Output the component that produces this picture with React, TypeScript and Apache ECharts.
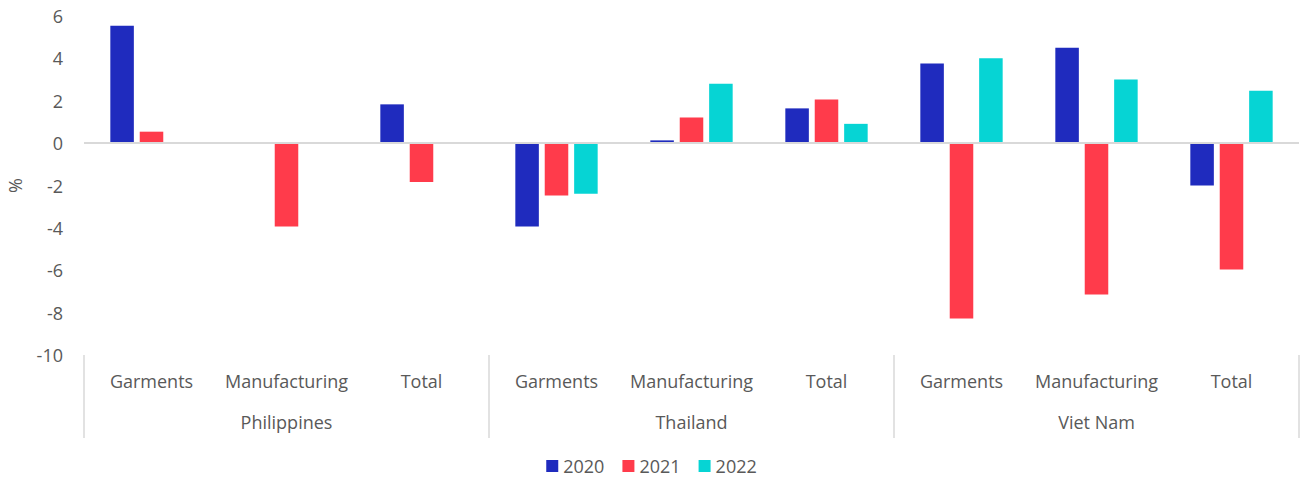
import React, { useEffect, useRef } from "react";
import * as echarts from "echarts";

const categories = [
  "Garments", "Manufacturing", "Total",
  "Garments", "Manufacturing", "Total",
  "Garments", "Manufacturing", "Total",
];
const countries = ["Philippines", "Thailand", "Viet Nam"];
const seriesNames = ["2020", "2021", "2022"];
const values2020 = [5.54, null, 1.83, -3.93, 0.13, 1.64, 3.76, 4.5, -2.0];
const values2021 = [0.54, -3.93, -1.84, -2.47, 1.21, 2.06, -8.28, -7.14, -5.96];
const values2022 = [null, null, null, -2.39, 2.8, 0.91, 4.01, 3.0, 2.47];
const colors = ["#1F2BBE", "#FF3B4B", "#06D4D4"];
const yTicks = { min: -10, max: 6, interval: 2 };

export default function App() {
  const ref = useRef<HTMLDivElement>(null);
  useEffect(() => {
    if (!ref.current) return;
    const chart = echarts.init(ref.current, undefined, { renderer: "svg" });
    const text = "#595959";
    const font = "Open Sans";
    const allValues = [values2020, values2021, values2022];
    chart.setOption({
      animation: false,
      textStyle: { fontFamily: font },
      grid: {
        left: 84,
        right: 4,
        top: 16,
        bottom: 122,
        containLabel: false,
        outerBoundsMode: "none",
      },
      legend: {
        data: seriesNames,
        left: "center",
        top: 457,
        padding: 0,
        icon: "rect",
        itemWidth: 12,
        itemHeight: 12,
        itemGap: 18,
        textStyle: { color: text, fontSize: 18, lineHeight: 18, fontFamily: font, padding: [0, 0, 0, 0] },
      },
      xAxis: [
        {
          type: "category",
          data: categories,
          position: "bottom",
          axisLine: { show: false },
          axisTick: { show: false },
          axisLabel: { color: text, fontSize: 18, fontFamily: font, margin: 17, interval: 0 },
        },
        {
          type: "category",
          data: countries,
          position: "bottom",
          boundaryGap: true,
          axisLine: { show: false },
          axisTick: {
            show: true,
            length: 83,
            interval: 0,
            lineStyle: { color: "#D9D9D9", width: 1.5 },
          },
          axisLabel: { color: text, fontSize: 18, fontFamily: font, margin: 58, interval: 0 },
        },
      ],
      yAxis: {
        type: "value",
        min: yTicks.min,
        max: yTicks.max,
        interval: yTicks.interval,
        name: "%",
        nameLocation: "middle",
        nameRotate: 90,
        nameGap: 60,
        nameTextStyle: { color: text, fontSize: 18, fontFamily: font },
        axisLine: { show: false },
        axisTick: { show: false },
        splitLine: { show: false },
        axisLabel: { color: text, fontSize: 18, fontFamily: font, margin: 21 },
      },
      series: seriesNames.map((name, i) => ({
        name,
        type: "bar",
        xAxisIndex: 0,
        data: allValues[i].map((v) => (v === null ? "-" : v)),
        itemStyle: { color: colors[i] },
        barCategoryGap: "39%",
        barGap: "25%",
        ...(i === 0
          ? {
              markLine: {
                silent: true,
                symbol: "none",
                label: { show: false },
                lineStyle: { color: "#D9D9D9", width: 2, type: "solid" },
                data: [{ yAxis: 0 }],
              },
            }
          : {}),
      })),
    });
    return () => chart.dispose();
  }, []);
  return (
    <div
      ref={ref}
      style={{ position: "fixed", left: 0, top: 0, width: 1303, height: 477, background: "#fff" }}
    />
  );
}
